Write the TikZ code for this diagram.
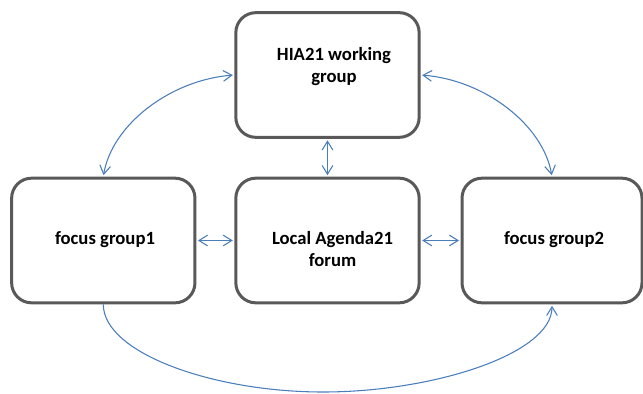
\documentclass[tikz,border=0pt]{standalone}
\usepackage{fontspec}
\setmainfont{Carlito}
\usetikzlibrary{arrows.meta}

\definecolor{boxline}{HTML}{595959}
\definecolor{linkblue}{HTML}{4A7EBB}

\tikzset{
  stage/.style={draw=boxline, line width=2.25pt, rounded corners=15pt,
    fill=white, minimum width=137.5pt, minimum height=93.5pt, inner sep=0pt},
  caption/.style={font=\bfseries\fontsize{14}{16.5}\selectfont, align=center,
    anchor=base, inner sep=0pt},
  link/.style={draw=linkblue, line width=0.8pt,
    arrows={Straight Barb[length=6.5pt,width=8pt]-Straight Barb[length=6.5pt,width=8pt]},
    shorten <=1.1pt, shorten >=1.1pt},
  onelink/.style={draw=linkblue, line width=0.8pt,
    arrows={-Straight Barb[length=6.5pt,width=8pt]}, shorten >=1.1pt}
}

\begin{document}
\begin{tikzpicture}[x=0.75pt, y=-0.75pt]
  \useasboundingbox (0,0) rectangle (643,393);

  % boxes
  \node[stage] (hia)   at (327.5, 75)    {};
  \node[stage] (fg1)   at (103.3, 240.5) {};
  \node[stage] (forum) at (327.5, 240.5) {};
  \node[stage, minimum width=135pt] (fg2) at (552, 240.5) {};

  % box texts (base anchor of a two-line caption sits on its last line)
  \node[caption] (hiatext)   at (334, 82)    {HIA21 working\\group};
  \node[caption] (forumtext) at (332.5, 266) {Local Agenda21\\forum};
  \node[caption] (fg1text)   at (105, 244)   {focus group1};
  \node[caption] (fg2text)   at (554, 244)   {focus group2};

  % straight two-way links
  \draw[link] (hia.south) -- (forum.north);
  \draw[link] (fg1.east) -- (forum.west);
  \draw[link] (forum.east) -- (fg2.west);

  % curved two-way links from the working group
  \draw[link] (hia.west) .. controls (170,80) and (112,125) .. (fg1.north);
  \draw[link] (hia.east) .. controls (485,80) and (543,125) .. (fg2.north);

  % lower arc from focus group1 to focus group2
  \draw[onelink] (fg1.south) .. controls (103.3,353) and (213,392) .. (323,392)
                 .. controls (433,392) and (552,354) .. (fg2.south);
\end{tikzpicture}
\end{document}
